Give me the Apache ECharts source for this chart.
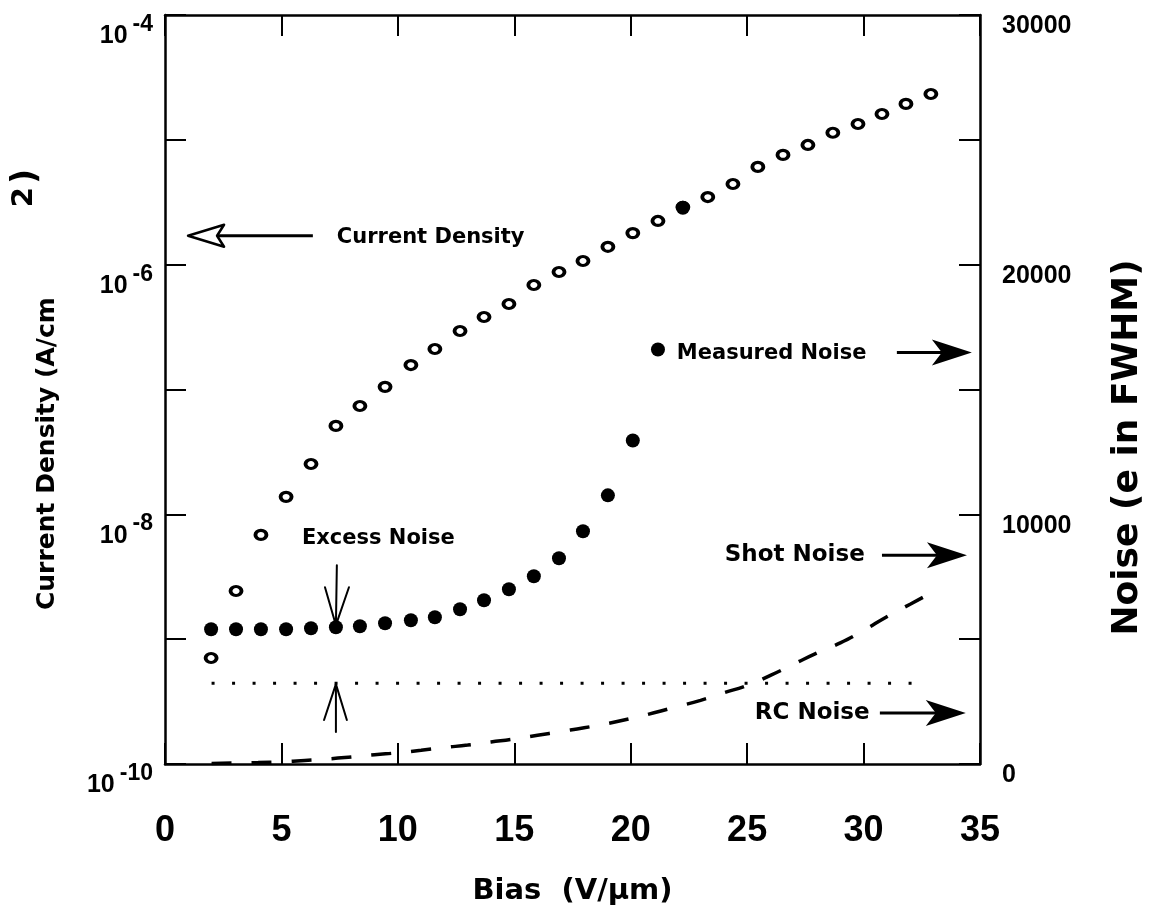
<!DOCTYPE html>
<html>
<head>
<meta charset="utf-8">
<script src="https://cdn.jsdelivr.net/npm/echarts@6/dist/echarts.min.js"></script>
<style>html,body{margin:0;padding:0;background:#fff}#c{width:1156px;height:909px}</style>
</head>
<body>
<div id="c"></div>
<script>
// ---- data ----
const biasPoints = [1.98, 3.05, 4.12, 5.20, 6.27, 7.34, 8.37, 9.45, 10.56, 11.59, 12.67, 13.70, 14.77, 15.84, 16.92,
  17.95, 19.02, 20.09, 21.17, 22.24, 23.31, 24.39, 25.46, 26.54, 27.61, 28.68, 29.76, 30.79, 31.82, 32.89];
const currentDensity = [7.06e-10, 2.43e-9, 6.84e-9, 1.38e-8, 2.53e-8, 5.11e-8, 7.38e-8, 1.05e-7, 1.57e-7, 2.11e-7,
  2.94e-7, 3.81e-7, 4.84e-7, 6.87e-7, 8.73e-7, 1.07e-6, 1.39e-6, 1.79e-6, 2.24e-6, 2.90e-6,
  3.48e-6, 4.43e-6, 6.07e-6, 7.57e-6, 9.10e-6, 1.14e-5, 1.34e-5, 1.61e-5, 1.94e-5, 2.33e-5];
const measuredNoise = [5400, 5400, 5400, 5400, 5440, 5480, 5520, 5640, 5760, 5880,
  6200, 6560, 7000, 7520, 8240, 9320, 10760, 12960, 16600, 22280];
const shotBias = [2, 3, 4, 5, 6, 7, 8, 9, 10, 11, 12, 13, 14, 15, 16, 17, 18, 19, 20, 21, 22, 23, 24, 25, 26, 27, 28, 29, 30, 31, 32, 32.8];
const shotNoise = [20, 40, 60, 90, 140, 200, 280, 370, 450, 550, 660, 760, 880, 1000, 1150, 1300, 1450, 1620, 1820, 2050,
  2300, 2550, 2850, 3150, 3550, 4000, 4450, 4850, 5350, 5900, 6400, 6800];
const rcBias = [2.0, 32.3];
const rcNoise = [3230, 3230];
const xTickValues = [0, 5, 10, 15, 20, 25, 30, 35];
const leftLabelExponents = [-10, -8, -6, -4];
const rightTickLabels = [0, 10000, 20000, 30000];

// ---- annotations (data coordinates: bias, noise) ----
const noteTexts = [
  { text: 'Current Density', at: [7.38, 21080], size: 21 },
  { text: 'Measured Noise', at: [21.98, 16440], size: 21 },
  { text: 'Shot Noise', at: [24.04, 8360], size: 23 },
  { text: 'RC Noise', at: [25.33, 2040], size: 23 },
  { text: 'Excess Noise', at: [5.88, 9040], size: 21 }
];
const filledArrows = [
  { from: [31.43, 16480], tip: [34.65, 16480] },
  { from: [30.79, 8360], tip: [34.44, 8360] },
  { from: [30.70, 2040], tip: [34.39, 2040] }
];

const BOLD_NUM = 'Liberation Sans';
const TXT = 'DejaVu Sans';

function renderNotes(params, api) {
  const P = (b, n) => api.coord([b, n]);
  const ch = [];
  const seg = (a, b, w) => {
    const p = P(a[0], a[1]), q = P(b[0], b[1]);
    ch.push({ type: 'line', shape: { x1: p[0], y1: p[1], x2: q[0], y2: q[1] }, style: { stroke: '#000', lineWidth: w, lineCap: 'round' } });
  };
  noteTexts.forEach(t => {
    const p = P(t.at[0], t.at[1]);
    ch.push({ type: 'text', style: { text: t.text, x: p[0], y: p[1], font: 'bold ' + t.size + 'px "' + TXT + '"', fill: '#000', align: 'left', verticalAlign: 'middle' } });
  });
  filledArrows.forEach(a => {
    const s = P(a.from[0], a.from[1]), t = P(a.tip[0], a.tip[1]);
    ch.push({ type: 'line', shape: { x1: s[0], y1: s[1], x2: t[0] - 20, y2: t[1] }, style: { stroke: '#000', lineWidth: 3 } });
    ch.push({ type: 'polygon', shape: { points: [[t[0], t[1]], [t[0] - 40, t[1] - 13], [t[0] - 30, t[1]], [t[0] - 40, t[1] + 13]] }, style: { fill: '#000' } });
  });
  {
    const tip = P(0.99, 21160), end = P(6.35, 21160);
    ch.push({ type: 'line', shape: { x1: tip[0] + 29, y1: tip[1], x2: end[0], y2: end[1] }, style: { stroke: '#000', lineWidth: 3 } });
    ch.push({ type: 'polygon', shape: { points: [[tip[0], tip[1]], [tip[0] + 36, tip[1] - 11], [tip[0] + 29, tip[1]], [tip[0] + 36, tip[1] + 11]] }, style: { fill: '#fff', stroke: '#000', lineWidth: 2.5, lineJoin: 'round' } });
  }
  seg([7.38, 7960], [7.34, 5560], 2);
  seg([6.87, 7080], [7.34, 5560], 2);
  seg([7.90, 7080], [7.34, 5560], 2);
  seg([7.34, 1280], [7.34, 3200], 2);
  seg([6.83, 1760], [7.34, 3200], 2);
  seg([7.81, 1760], [7.34, 3200], 2);
  return { type: 'group', children: ch };
}

const axisLineStyle = { onZero: false, lineStyle: { color: '#000', width: 2.5 } };
const tickStyle = { show: true, inside: true, length: 21, lineStyle: { color: '#000', width: 2 } };

const chart = echarts.init(document.getElementById('c'), null, { renderer: 'canvas' });
chart.setOption({
  animation: false,
  backgroundColor: '#fff',
  grid: { left: 165, right: 176, top: 15, bottom: 145, containLabel: false, outerBoundsMode: 'none' },
  xAxis: [
    {
      type: 'value', min: 0, max: 35, interval: 5, position: 'bottom',
      axisLine: axisLineStyle, axisTick: tickStyle, splitLine: { show: false },
      axisLabel: {
        margin: 49, color: '#000', fontFamily: BOLD_NUM, fontWeight: 'bold', fontSize: 36,
        formatter: v => xTickValues.includes(v) ? String(v) : ''
      },
      name: 'Bias  (V/\u00b5m)', nameLocation: 'middle', nameGap: 113,
      nameTextStyle: { color: '#000', fontFamily: TXT, fontWeight: 'bold', fontSize: 29 }
    },
    {
      type: 'value', min: 0, max: 35, interval: 5, position: 'top',
      axisLine: axisLineStyle, axisTick: tickStyle, axisLabel: { show: false }, splitLine: { show: false }
    }
  ],
  yAxis: [
    {
      type: 'log', logBase: 10, min: 1e-10, max: 1e-4, interval: 1, position: 'left',
      axisLine: axisLineStyle, axisTick: tickStyle, splitLine: { show: false },
      axisLabel: {
        margin: 12, color: '#000', showMinLabel: true, showMaxLabel: true,
        padding: [32, 0, 0, 0],
        formatter: v => {
          const e = Math.round(Math.log10(v));
          return leftLabelExponents.includes(e) ? '{b|10}{s|-' + (-e) + '}' : '';
        },
        rich: {
          b: { fontFamily: BOLD_NUM, fontWeight: 'bold', fontSize: 25, color: '#000', verticalAlign: 'bottom', lineHeight: 36 },
          s: { fontFamily: BOLD_NUM, fontWeight: 'bold', fontSize: 23, color: '#000', verticalAlign: 'top', lineHeight: 36, padding: [0, 0, 0, 5] }
        }
      },
      name: '{a|Current Density (A/cm}{s|2}{p|)}', nameLocation: 'middle', nameRotate: 90, nameGap: 105,
      nameTextStyle: {
        rich: {
          a: { fontFamily: TXT, fontWeight: 'bold', fontSize: 25, color: '#000', verticalAlign: 'bottom', lineHeight: 50 },
          s: { fontFamily: TXT, fontWeight: 'bold', fontSize: 29, color: '#000', verticalAlign: 'top', lineHeight: 50, padding: [0, 0, 0, 90] },
          p: { fontFamily: TXT, fontWeight: 'bold', fontSize: 33, color: '#000', verticalAlign: 'top', lineHeight: 50, padding: [0, 0, 0, 3] }
        }
      }
    },
    {
      type: 'value', min: 0, max: 30000, interval: 5000, position: 'right',
      axisLine: axisLineStyle, axisTick: tickStyle, splitLine: { show: false },
      axisLabel: {
        margin: 22, color: '#000', showMinLabel: true, showMaxLabel: true,
        formatter: v => rightTickLabels.includes(v) ? '{n|' + v + '}' : '',
        rich: {
          n: { fontFamily: BOLD_NUM, fontWeight: 'bold', fontSize: 25, color: '#000', verticalAlign: 'bottom', lineHeight: 48 }
        }
      },
      name: 'Noise (e in FWHM)', nameLocation: 'middle', nameRotate: 90, nameGap: 130,
      nameTextStyle: { color: '#000', fontFamily: TXT, fontWeight: 'bold', fontSize: 36, padding: [0, 116, 0, 0] }
    }
  ],
  series: [
    {
      name: 'Shot Noise', type: 'line', xAxisIndex: 0, yAxisIndex: 1, smooth: true, showSymbol: false, symbol: 'none',
      data: shotBias.map((b, i) => [b, shotNoise[i]]),
      lineStyle: { color: '#000', width: 3.5, type: [20, 20] }, z: 2
    },
    {
      name: 'RC Noise', type: 'line', xAxisIndex: 0, yAxisIndex: 1, showSymbol: false, symbol: 'none',
      data: rcBias.map((b, i) => [b, rcNoise[i]]),
      lineStyle: { color: '#000', width: 3, type: [3, 17.5] }, z: 2
    },
    {
      name: 'Current Density', type: 'scatter', xAxisIndex: 0, yAxisIndex: 0,
      data: biasPoints.map((b, i) => [b, currentDensity[i]]),
      symbol: 'circle', symbolSize: [11, 9],
      itemStyle: { color: '#fff', borderColor: '#000', borderWidth: 3.5, opacity: 1 }, z: 3
    },
    {
      name: 'Measured Noise', type: 'scatter', xAxisIndex: 0, yAxisIndex: 1,
      data: measuredNoise.map((n, i) => [biasPoints[i], n]),
      symbol: 'circle', symbolSize: 14,
      itemStyle: { color: '#000', opacity: 1 }, z: 4
    },
    {
      name: 'annotations', type: 'custom', xAxisIndex: 0, yAxisIndex: 1, clip: false,
      data: [[0, 0]], renderItem: renderNotes, z: 5, silent: true
    }
  ]
});
</script>
</body>
</html>
